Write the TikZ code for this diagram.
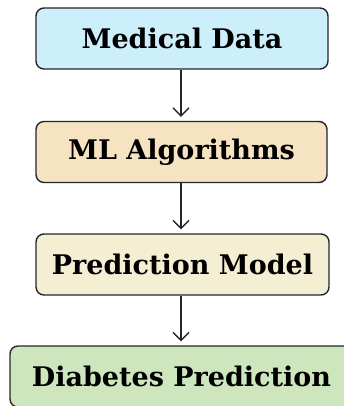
\documentclass[tikz,border=0pt]{standalone}
\usepackage{fontspec}
\setmainfont{DejaVu Serif}
\usetikzlibrary{arrows.meta,positioning}
\definecolor{datablue}{HTML}{CDEEFB}
\definecolor{algotan}{HTML}{F5E3C1}
\definecolor{modelcream}{HTML}{F4EFD3}
\definecolor{resultgreen}{HTML}{CDE6BD}

\begin{document}
\begin{tikzpicture}
[x=1pt, y=-1pt, draw=black!85, line width=1.4pt, >={Straight Barb[length=8pt,width=16pt]},
step0/.style={rectangle, draw, rounded corners=8pt, inner sep=0pt, minimum height=61pt, font=\fontsize{27}{32}\selectfont\bfseries},
flow/.style={->, line width=1.3pt, shorten >=4pt}]

\useasboundingbox (0,0) rectangle (343,406);

\node[step0,fill=datablue,minimum width=292pt] (data) at (182,38.5) {Medical Data};
\node[step0,fill=algotan,minimum width=291pt] (algo) at (181.5,152) {ML Algorithms};
\node[step0,fill=modelcream,minimum width=293pt] (model) at (182.5,264.5) {Prediction Model};
\node[step0,fill=resultgreen,minimum width=343pt] (result) at (181.5,376.5) {Diabetes Prediction};

\draw[flow] (data.south -| 181,0) -- (algo.north -| 181,0);
\draw[flow] (algo.south -| 181,0) -- (model.north -| 181,0);
\draw[flow] (model.south -| 181,0) -- (result.north -| 181,0);

\end{tikzpicture}
\end{document}
